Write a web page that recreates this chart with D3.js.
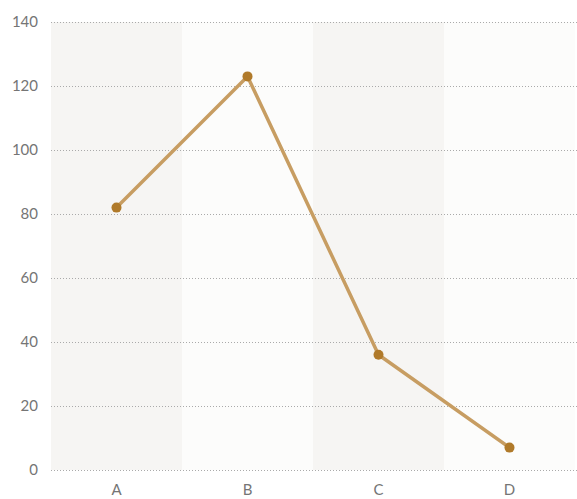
<!DOCTYPE html>
<html>
<head>
<meta charset="utf-8">
<script src="https://cdn.jsdelivr.net/npm/d3@7"></script>
<style>
  body { margin: 0; background: #fff; }
  svg { display: block; font-family: Lato, sans-serif; }
</style>
</head>
<body>
<svg id="chart" width="577" height="499"></svg>
<script>
var categories = ["A", "B", "C", "D"];
var values = [82, 123, 36, 7];
var yTicks = [0, 20, 40, 60, 80, 100, 120, 140];

var margin = { top: 22, right: 2, bottom: 29, left: 51 };
var svg = d3.select("#chart");
var width = 577 - margin.left - margin.right;
var height = 499 - margin.top - margin.bottom;

var g = svg.append("g")
  .attr("transform", "translate(" + margin.left + "," + margin.top + ")");

var x = d3.scaleBand().domain(categories).range([0, width]).padding(0);
var y = d3.scaleLinear().domain([0, 140]).range([height, 0]);

// alternating background bands
g.selectAll("rect.band")
  .data(categories)
  .enter()
  .append("rect")
  .attr("class", "band")
  .attr("x", function (d) { return x(d); })
  .attr("y", 0)
  .attr("width", x.bandwidth())
  .attr("height", height)
  .style("fill", function (d, i) { return i % 2 === 0 ? "#f6f5f3" : "#fcfcfb"; });

// gridlines
g.selectAll("line.grid")
  .data(yTicks)
  .enter()
  .append("line")
  .attr("class", "grid")
  .attr("x1", 0)
  .attr("x2", width + margin.right)
  .attr("y1", function (d) { return Math.round(y(d)) + 0.5; })
  .attr("y2", function (d) { return Math.round(y(d)) + 0.5; })
  .style("stroke", "#aaa")
  .style("stroke-width", 1)
  .style("stroke-dasharray", "1,2");

// y axis labels
var yAxis = g.append("g").call(
  d3.axisLeft(y).tickValues(yTicks).tickSize(0).tickPadding(13)
);
yAxis.select(".domain").remove();
yAxis.selectAll("text")
  .style("font-family", "Lato, sans-serif")
  .style("font-size", "15px")
  .style("fill", "#757575");

// x axis labels
var xAxis = g.append("g")
  .attr("transform", "translate(0," + height + ")")
  .call(d3.axisBottom(x).tickSize(0).tickPadding(14));
xAxis.select(".domain").remove();
xAxis.selectAll("text")
  .style("font-family", "Lato, sans-serif")
  .style("font-size", "15px")
  .style("fill", "#757575");

var line = d3.line()
  .x(function (d, i) { return x(categories[i]) + x.bandwidth() / 2; })
  .y(function (d) { return y(d); });

g.append("path")
  .datum(values)
  .attr("d", line)
  .style("fill", "none")
  .style("stroke", "#c79d62")
  .style("stroke-width", 3.5)
  .style("stroke-linejoin", "round");

g.selectAll("circle.pt")
  .data(values)
  .enter()
  .append("circle")
  .attr("class", "pt")
  .attr("cx", function (d, i) { return x(categories[i]) + x.bandwidth() / 2; })
  .attr("cy", function (d) { return y(d); })
  .attr("r", 5)
  .style("fill", "#b07a2a");
</script>
</body>
</html>
